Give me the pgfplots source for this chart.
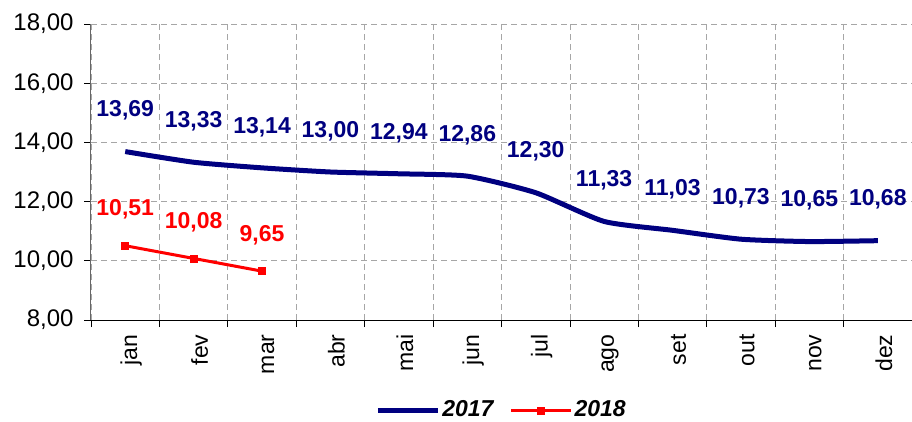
\documentclass[border=0pt]{standalone}
\usepackage{fontspec}
\setmainfont{Liberation Sans}
\usepackage{pgfplots}
\pgfplotsset{compat=1.18}
\definecolor{navy}{RGB}{0,0,128}
\definecolor{lred}{RGB}{255,0,0}
\begin{document}
\fontsize{22}{26}\selectfont
\begin{tikzpicture}
\begin{axis}[
 scale only axis, width=821pt, height=296pt,
 xmin=-0.5, xmax=11.5, ymin=8, ymax=18,
 axis x line*=bottom, axis y line*=left,
 axis line style={-, line width=1pt},
 y axis line style={gray!80!black},
 xtick={0,...,11},
 xticklabels={jan,fev,mar,abr,mai,jun,jul,ago,set,out,nov,dez},
 major x tick style={draw=none},
 minor xtick={-0.5,0.5,...,11.5},
 ytick={8,10,...,18},
 yticklabel={\pgfmathprintnumber[fixed,fixed zerofill,precision=2,use comma,assume math mode=true]{\tick}},
 tick align=outside, major tick length=7pt, minor tick length=7pt,
 tick style={black, line width=0.8pt},
 xminorgrids, ymajorgrids,
 grid style={gray!70, dash pattern=on 6pt off 4pt, line width=0.8pt},
 minor grid style={gray!70, dash pattern=on 6pt off 4pt, line width=0.8pt},
 xticklabel style={rotate=90, anchor=east, yshift=-6pt, font=\fontsize{23}{27}\selectfont},
 yticklabel style={xshift=-3pt, font=\fontsize{24}{28}\selectfont},
 clip=false,
 legend columns=2,
 legend style={at={(0.5,-0.305)}, anchor=center, draw=none, fill=none,
   font=\fontsize{23}{26}\selectfont\bfseries\itshape,
   /tikz/every even column/.append style={column sep=14pt}},
 legend image code/.code={\draw[mark repeat=2,mark phase=2,#1] plot coordinates {(0pt,0pt) (30pt,0pt) (60pt,0pt)};},
]
\addplot[navy, line width=5pt, smooth, tension=0.35, mark=none,
  point meta=y,
  nodes near coords={\pgfmathprintnumber[fixed,fixed zerofill,precision=2,use comma,assume math mode=true]{\pgfplotspointmeta}},
  nodes near coords style={anchor=center, yshift=41pt, font=\fontsize{23}{26}\selectfont\bfseries, text=navy}]
 coordinates {(0,13.69) (1,13.33) (2,13.14) (3,13.00) (4,12.94) (5,12.86) (6,12.30) (7,11.33) (8,11.03) (9,10.73) (10,10.65) (11,10.68)};
\addlegendentry{2017}
\addplot[lred, line width=3pt, mark=square*, mark size=3.5pt, mark options={line width=0.5pt},
  point meta=y,
  nodes near coords={\pgfmathprintnumber[fixed,fixed zerofill,precision=2,use comma,assume math mode=true]{\pgfplotspointmeta}},
  nodes near coords style={anchor=center, yshift=36pt, font=\fontsize{23}{26}\selectfont\bfseries, text=lred}]
 coordinates {(0,10.51) (1,10.08) (2,9.65)};
\addlegendentry{2018}
\end{axis}
\pgfresetboundingbox
\path[use as bounding box] ([shift={(-91pt,-101pt)}]current axis.south west) rectangle ([shift={(0pt,24pt)}]current axis.north east);
\end{tikzpicture}
\end{document}
